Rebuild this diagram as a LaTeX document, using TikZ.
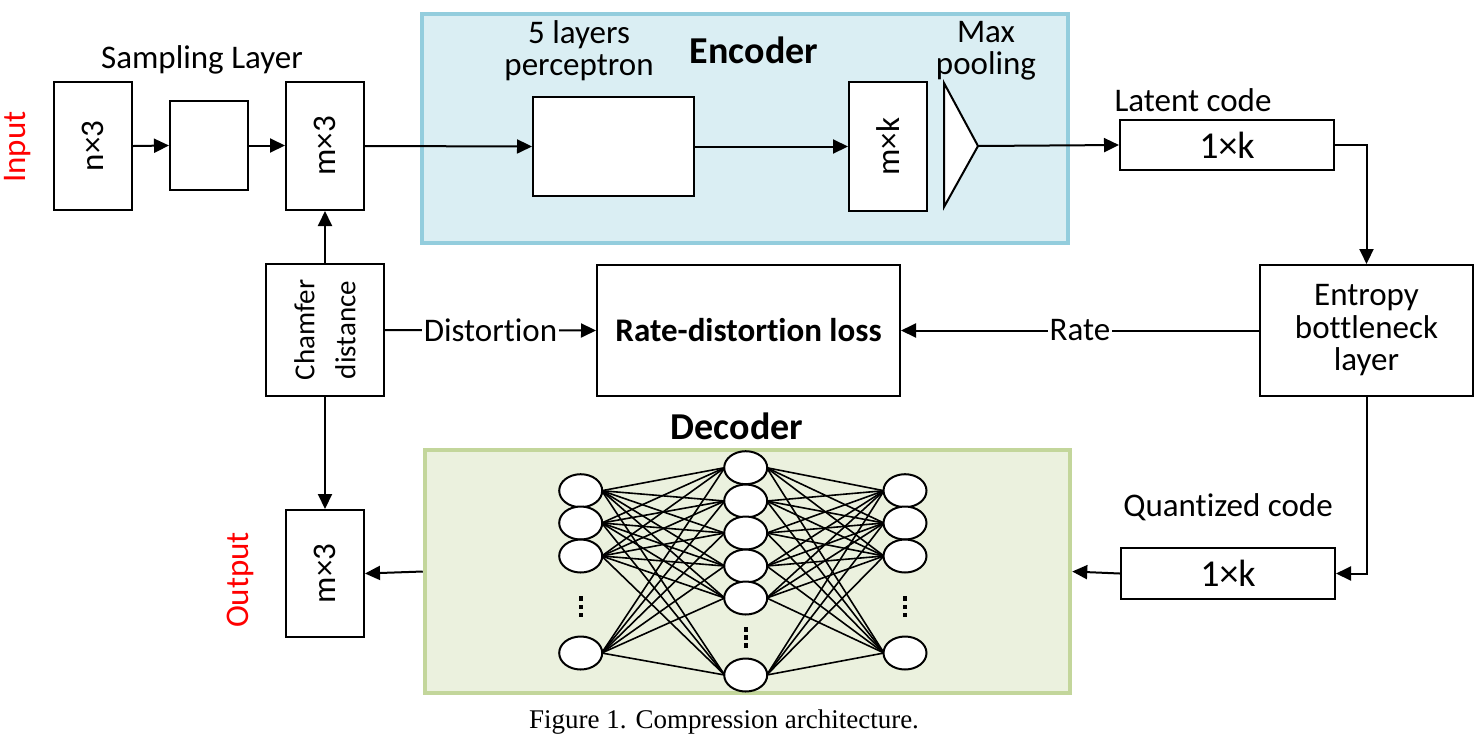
\documentclass[tikz,border=0pt]{standalone}
\usepackage{fontspec}
\setmainfont{Carlito}[Ligatures=NoCommon]
\newfontfamily\capfont{Liberation Serif}
\usetikzlibrary{arrows.meta,shapes.geometric}
\definecolor{encfill}{HTML}{DAEEF3}
\definecolor{encline}{HTML}{93CDDD}
\definecolor{decfill}{HTML}{EBF1DE}
\definecolor{decline}{HTML}{C3D69B}
\definecolor{redlab}{HTML}{FF0000}
\tikzset{
  box/.style={draw, line width=2pt, fill=white, inner sep=0pt},
  lab/.style={inner sep=0pt, font=\fontsize{33}{32}\selectfont, align=center},
  titlelab/.style={inner sep=0pt, font=\fontsize{38}{40}\selectfont\bfseries},
  arr/.style={line width=2pt, -{Triangle[length=15pt,width=14pt]}},
  neuron/.style={ellipse, draw, line width=2pt, fill=white, minimum width=43pt, minimum height=33pt, inner sep=0pt},
  conn/.style={line width=1.6pt},
  bgenc/.style={draw=encline, fill=encfill, line width=4.5pt, inner sep=0pt},
  bgdec/.style={draw=decline, fill=decfill, line width=4.5pt, inner sep=0pt},
}
\begin{document}
\begin{tikzpicture}[x=1pt,y=-1pt]
\useasboundingbox (0,0) rectangle (1482,740);
% backgrounds
\node[bgenc, minimum width=646pt, minimum height=229pt] (encbg) at (745,128.5) {};
\node[bgdec, minimum width=645pt, minimum height=243pt] (decbg) at (747.5,571.5) {};
% input side
\node[lab, text=redlab, rotate=90] (inlab) at (18,147) {Input};
\node[box, minimum width=78pt, minimum height=128pt] (n3) at (93,146) {};
\node[lab, rotate=90] (n3t) at (n3) {n×3};
\node[box, minimum width=78pt, minimum height=89pt] (samp) at (209,145.5) {};
\node[box, minimum width=78pt, minimum height=128pt] (m3) at (325,146) {};
\node[lab, rotate=90] (m3t) at (m3) {m×3};
\node[lab] (samplab) at (202,60) {Sampling Layer};
% encoder
\node[titlelab] (enclab) at (754,50) {Encoder};
\node[lab] (perclab) at (579,51) {5 layers\\perceptron};
\node[box, minimum width=161pt, minimum height=99pt] (perc) at (613.5,146.5) {};
\node[box, minimum width=78pt, minimum height=129pt] (mk) at (888,146.5) {};
\node[lab, rotate=90] (mkt) at (mk) {m×k};
\draw[line width=2pt, fill=white] (944,83) -- (978,146) -- (944,207) -- cycle;
\coordinate (apex) at (978,146);
\node[lab] (maxlab) at (986,51) {Max\\pooling};
% latent
\node[lab] (latlab) at (1193,100) {Latent code};
\node[box, minimum width=214pt, minimum height=50pt, font=\fontsize{38}{40}\selectfont] (latent) at (1227,145) {1×k};
\node[box, minimum width=213pt, minimum height=131pt, font=\fontsize{33}{32.5}\selectfont, align=center] (entropy) at (1366.5,330.5) {Entropy\\bottleneck\\layer};
\node[box, minimum width=303pt, minimum height=131pt, font=\fontsize{33}{34}\selectfont\bfseries] (rd) at (748.5,330.5) {Rate-distortion loss};
\node[box, minimum width=118pt, minimum height=132pt] (chamfer) at (325,330) {};
\node[inner sep=0pt, align=center, font=\fontsize{29}{41}\selectfont, rotate=90] (chamt) at (chamfer) {Chamfer\\distance};
% output side
\node[box, minimum width=78pt, minimum height=127pt] (out) at (325,573.5) {};
\node[lab, rotate=90] (outt) at (out) {m×3};
\node[lab, text=redlab, rotate=90] (outlab) at (240,580) {Output};
\node[titlelab] (declab) at (737,426) {Decoder};
\node[lab] (quantlab) at (1228,507) {Quantized code};
\node[box, minimum width=214pt, minimum height=51pt, font=\fontsize{38}{40}\selectfont] (quant) at (1228,573.5) {1×k};
% connectors
\draw[arr] (n3.east) -- (samp.west);
\draw[arr] (samp.east) -- (m3.west |- samp.east);
\draw[arr] (m3.east) -- (perc.west);
\draw[arr] (perc.east) -- (mk.west);
\draw[arr] (apex) -- (latent.west);
\draw[arr] (latent.east) -| (entropy.north);
\draw[arr] (entropy.west) -- node[lab, fill=white, inner sep=2pt] (ratelab) {Rate} (rd.east);
\draw[arr] (chamfer.east) -- node[lab, fill=white, inner sep=2pt] (distlab) {Distortion} (rd.west);
\draw[arr] (chamfer.north) -- (m3.south);
\draw[arr] (chamfer.south) -- (out.north);
\draw[arr] (entropy.south) |- (quant.east);
\draw[arr] (quant.west) -- (decbg.east);
\draw[arr] (decbg.west) -- (out.east);
% neural net
\foreach \i/\y in {1/490.7,2/523,3/556,4/653} {
  \coordinate (L\i) at (580.7,\y);
  \coordinate (R\i) at (905,\y);
}
\foreach \j/\y in {1/467.7,2/501,3/533,4/566,5/598,6/675} {
  \coordinate (M\j) at (745.7,\y);
}
\foreach \i in {1,2,3,4} {
  \foreach \j in {1,...,6} {
    \draw[conn] ([xshift=21pt]L\i) -- ([xshift=-21pt]M\j);
    \draw[conn] ([xshift=21pt]M\j) -- ([xshift=-21pt]R\i);
  }
}
\foreach \i in {1,2,3,4} {
  \node[neuron] (nl\i) at (L\i) {};
  \node[neuron] (nr\i) at (R\i) {};
}
\foreach \j in {1,...,6} {
  \node[neuron] (nm\j) at (M\j) {};
}
\foreach \x/\y in {580.7/598.5, 580.7/606.7, 580.7/615, 905/598.5, 905/606.7, 905/615, 745.7/629.5, 745.7/637.5, 745.7/645.5} {
  \fill (\x-2.2,\y-2.2) rectangle (\x+2.2,\y+2.2);
}
% caption
\node[inner sep=0pt, font=\capfont\fontsize{27}{28}\selectfont] (cap) at (724,722) {Figure 1. Compression architecture.};
\end{tikzpicture}
\end{document}
